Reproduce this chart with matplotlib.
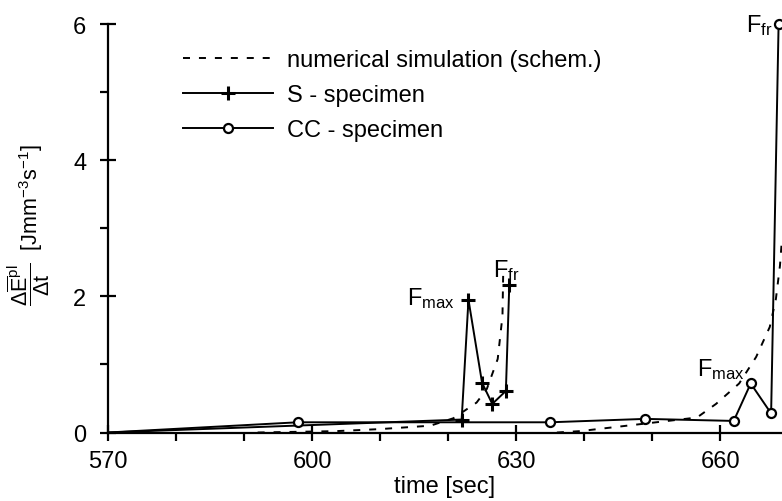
import matplotlib
matplotlib.use("Agg")
import matplotlib.pyplot as plt
from matplotlib.ticker import MultipleLocator

plt.rcParams["font.family"] = ["Liberation Sans", "DejaVu Sans"]
plt.rcParams["mathtext.fontset"] = "custom"
plt.rcParams["mathtext.rm"] = "Liberation Sans"
plt.rcParams["mathtext.it"] = "Liberation Sans"
plt.rcParams["mathtext.bf"] = "Liberation Sans:bold"

# S - specimen (time [s], dE/dt)
s_time = [570, 622.0, 623.0, 625.0, 626.5, 628.5, 629.0]
s_rate = [0, 0.19, 1.95, 0.73, 0.42, 0.61, 2.16]

# CC - specimen
cc_time = [570, 597.9, 635.0, 649.0, 662.0, 664.5, 667.5, 668.6]
cc_rate = [0, 0.15, 0.15, 0.20, 0.17, 0.72, 0.28, 6.0]

# numerical simulation (schematic), one branch per specimen
sim_s_time = [592, 603.5, 610, 617.4, 620.8, 624.2, 625.7, 627.3, 628.0, 628.1]
sim_s_rate = [0, 0.02, 0.05, 0.10, 0.21, 0.44, 0.64, 1.08, 1.71, 2.30]
sim_cc_time = [636, 639.4, 646.3, 656.6, 659.4, 662.8, 665.3, 667.3, 668.2, 668.8, 669.1]
sim_cc_rate = [0, 0.02, 0.10, 0.22, 0.42, 0.72, 1.11, 1.55, 1.96, 2.45, 2.85]

FS = 17

fig = plt.figure(figsize=(7.82, 5.02), dpi=100)
ax = fig.add_axes([108 / 782, 1 - 433.5 / 502, 1 - 108 / 782, (433.5 - 25) / 502])

dash = dict(color="black", lw=1.4, linestyle=(0, (3.6, 4.6)))
ax.plot(sim_s_time, sim_s_rate, label="numerical simulation (schem.)", **dash)
ax.plot(sim_cc_time, sim_cc_rate, **dash)

# first point (570, 0) is only where the curves start, no marker there
ax.plot(s_time, s_rate, color="black", lw=1.4, marker="+", ms=10, mew=2.2,
        markevery=slice(1, None), label="S - specimen", clip_on=False)
ax.plot(cc_time, cc_rate, color="black", lw=1.4, marker="o", ms=6.5, mew=1.6,
        mfc="white", markevery=slice(1, None), label="CC - specimen",
        clip_on=False, zorder=3)

ax.set_xlim(570, 669.1)
ax.set_ylim(0, 6)
ax.xaxis.set_major_locator(MultipleLocator(30))
ax.xaxis.set_minor_locator(MultipleLocator(10))
ax.yaxis.set_major_locator(MultipleLocator(2))
ax.yaxis.set_minor_locator(MultipleLocator(1))
ax.tick_params(which="major", direction="inout", length=11, width=1.6,
               labelsize=FS)
ax.tick_params(axis="x", which="major", pad=7)
ax.tick_params(axis="y", which="major", pad=10)
ax.tick_params(which="minor", direction="out", length=6, width=1.6)

for side in ("top", "right"):
    ax.spines[side].set_visible(False)
for side in ("left", "bottom"):
    ax.spines[side].set_linewidth(1.6)

ax.set_xlabel("time [sec]", fontsize=FS, labelpad=2)
ax.set_ylabel(r"$\dfrac{\Delta\overline{\mathrm{E}}^{\mathrm{pl}}}{\Delta \mathrm{t}}$"
              r"  [Jmm$^{\mathrm{-3}}$s$^{\mathrm{-1}}$]", fontsize=15.5)
ax.yaxis.set_label_coords(-0.083, 0.51)

ax.legend(loc="upper left", bbox_to_anchor=(0.094, 0.967), frameon=False,
          fontsize=FS, handlelength=3.8, handletextpad=0.6, numpoints=1,
          labelspacing=0.55, borderpad=0)

lab = dict(fontsize=FS, textcoords="offset points")
ax.annotate(r"F$_{\mathrm{max}}$", xy=(s_time[2], s_rate[2]), xytext=(-10, -3),
            ha="right", va="baseline", **lab)
ax.annotate(r"F$_{\mathrm{fr}}$", xy=(s_time[6], s_rate[6]), xytext=(-2, 6.5),
            ha="center", va="baseline", **lab)
ax.annotate(r"F$_{\mathrm{max}}$", xy=(cc_time[5], cc_rate[5]), xytext=(-4.3, 5.8),
            ha="right", va="baseline", **lab)
ax.annotate(r"F$_{\mathrm{fr}}$", xy=(cc_time[7], cc_rate[7]), xytext=(-4.3, -5),
            ha="right", va="baseline", **lab, annotation_clip=False)

fig.savefig("out.png", dpi=100)
